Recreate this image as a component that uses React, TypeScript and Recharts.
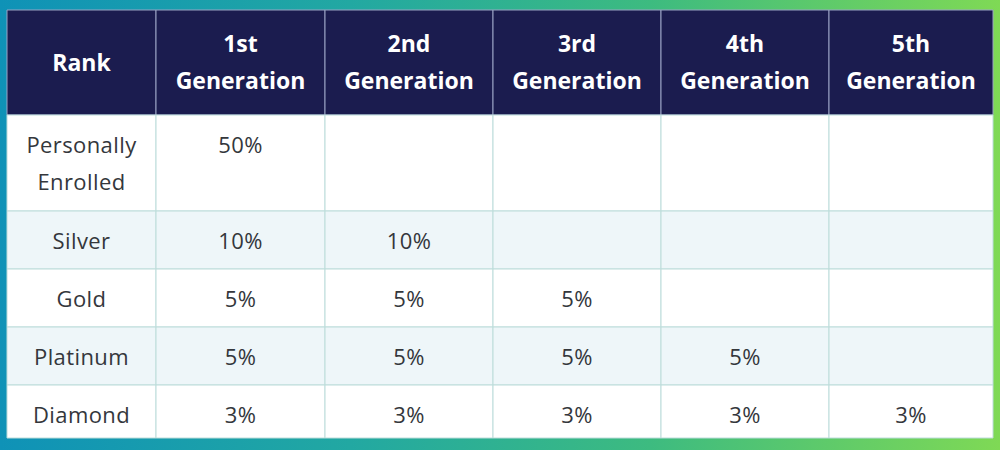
import { ComposedChart, XAxis, YAxis, ReferenceArea } from 'recharts'

// table content
const generations = ['1st', '2nd', '3rd', '4th', '5th']
const rankLabels = [['Personally', 'Enrolled'], ['Silver'], ['Gold'], ['Platinum'], ['Diamond']]
const personallyEnrolled = [50]
const silver = [10, 10]
const gold = [5, 5, 5]
const platinum = [5, 5, 5, 5]
const diamond = [3, 3, 3, 3, 3]
const payouts = [personallyEnrolled, silver, gold, platinum, diamond]

// layout (table units)
const colWidths = [149, 169, 168, 168, 168, 164]
const rowHeights = [105, 96, 58, 58, 58, 53]
const tableLeft = 7
const tableTop = 10
const W = 1000
const H = 450

const HEADER_BG = '#1b1c4f'
const STRIPE = '#eef6f9'
const GRID = '#bcdcda'
const TEXT = '#34373c'
const FONT = '"Open Sans", sans-serif'

const colEdges = colWidths.reduce<number[]>((acc, w) => [...acc, acc[acc.length - 1] + w], [tableLeft])
const rowEdges = rowHeights.reduce<number[]>((acc, h) => [...acc, acc[acc.length - 1] + h], [tableTop])

interface CellProps {
  viewBox?: { x: number; y: number; width: number; height: number }
  lines: string[]
  header?: boolean
}

function CellText({ viewBox, lines, header }: CellProps) {
  if (!viewBox) return null
  const { x, y, width, height } = viewBox
  const cx = x + width / 2
  const lineH = 37
  // header is centred, body cells are top aligned
  const first = header
    ? y + height / 2 - ((lines.length - 1) * lineH) / 2 - 1
    : y + 28.5
  return (
    <text
      textAnchor="middle"
      fontFamily={FONT}
      fontSize={header ? 23 : 22}
      fontWeight={header ? 700 : 400}
      letterSpacing={header ? 0 : 0.4}
      fill={header ? '#ffffff' : TEXT}
    >
      {lines.map((l, i) => (
        <tspan key={i} x={cx} y={first + i * lineH} dominantBaseline="central">
          {l}
        </tspan>
      ))}
    </text>
  )
}

export default function App() {
  const headerCells = [['Rank'], ...generations.map(g => [g, 'Generation'])]

  return (
    <div
      style={{
        position: 'fixed',
        left: 0,
        top: 0,
        width: W,
        height: H,
        background: 'linear-gradient(90deg, #0f92b7 0%, #22a8a2 35%, #3dbb80 65%, #7fd955 100%)',
      }}
    >
      <ComposedChart width={W} height={H} data={[]} margin={{ top: 0, right: 0, bottom: 0, left: 0 }}>
        <XAxis type="number" dataKey="x" domain={[0, W]} hide allowDataOverflow />
        <YAxis type="number" dataKey="y" domain={[0, H]} reversed hide allowDataOverflow />

        {/* header row */}
        {headerCells.map((lines, c) => (
          <ReferenceArea
            key={`h${c}`}
            x1={colEdges[c]}
            x2={colEdges[c + 1]}
            y1={rowEdges[0]}
            y2={rowEdges[1]}
            fill={HEADER_BG}
            fillOpacity={1}
            stroke="#9aa3c4"
            strokeWidth={1}
            ifOverflow="visible"
            isFront
            label={{ content: (p: any) => <CellText viewBox={p.viewBox} lines={lines} header /> }}
          />
        ))}

        {/* body rows */}
        {rankLabels.map((rank, r) =>
          [rank, ...generations.map((_, g) => (payouts[r][g] != null ? [`${payouts[r][g]}%`] : []))].map(
            (lines, c) => (
              <ReferenceArea
                key={`r${r}c${c}`}
                x1={colEdges[c]}
                x2={colEdges[c + 1]}
                y1={rowEdges[r + 1]}
                y2={rowEdges[r + 2]}
                fill={r % 2 === 1 ? STRIPE : '#ffffff'}
                fillOpacity={1}
                stroke={GRID}
                strokeWidth={1}
                ifOverflow="visible"
                isFront
                label={{ content: (p: any) => <CellText viewBox={p.viewBox} lines={lines} /> }}
              />
            )
          )
        )}
      </ComposedChart>
    </div>
  )
}
